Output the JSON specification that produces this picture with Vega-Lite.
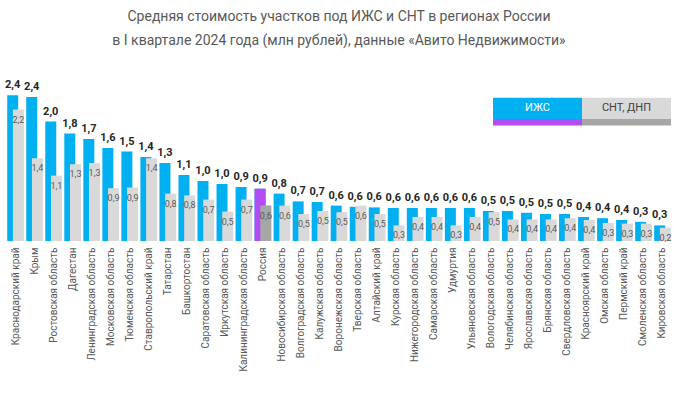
{
  "$schema": "https://vega.github.io/schema/vega-lite/v6.json",
  "width": 666,
  "height": 165,
  "padding": {"left": 5, "top": 9, "right": 0, "bottom": 0},
  "config": {
    "font": "Roboto",
    "view": {"stroke": null},
    "legend": {"padding": 0}
  },
  "title": {
    "text": ["Средняя стоимость участков под ИЖС и СНТ в регионах России", "в I квартале 2024 года (млн рублей), данные «Авито Недвижимости»"],
    "fontSize": 14,
    "fontWeight": "normal",
    "color": "#595959",
    "lineHeight": 24,
    "anchor": "middle",
    "offset": 16
  },
  "data": {
    "values": [
      {"r": "Краснодарский край", "a": 2.43, "b": 2.19, "la": "2,4", "lb": "2,2"},
      {"r": "Крым", "a": 2.40, "b": 1.38, "la": "2,4", "lb": "1,4"},
      {"r": "Ростовская область", "a": 1.99, "b": 1.09, "la": "2,0", "lb": "1,1"},
      {"r": "Дагестан", "a": 1.79, "b": 1.28, "la": "1,8", "lb": "1,3"},
      {"r": "Ленинградская область", "a": 1.70, "b": 1.30, "la": "1,7", "lb": "1,3"},
      {"r": "Московская область", "a": 1.55, "b": 0.88, "la": "1,6", "lb": "0,9"},
      {"r": "Тюменская область", "a": 1.49, "b": 0.89, "la": "1,5", "lb": "0,9"},
      {"r": "Ставропольский край", "a": 1.40, "b": 1.38, "la": "1,4", "lb": "1,4"},
      {"r": "Татарстан", "a": 1.30, "b": 0.79, "la": "1,3", "lb": "0,8"},
      {"r": "Башкортостан", "a": 1.10, "b": 0.76, "la": "1,1", "lb": "0,8"},
      {"r": "Саратовская область", "a": 1.00, "b": 0.69, "la": "1,0", "lb": "0,7"},
      {"r": "Иркутская область", "a": 0.95, "b": 0.49, "la": "1,0", "lb": "0,5"},
      {"r": "Калининградская область", "a": 0.90, "b": 0.69, "la": "0,9", "lb": "0,7"},
      {"r": "Россия", "a": 0.87, "b": 0.59, "la": "0,9", "lb": "0,6"},
      {"r": "Новосибирская область", "a": 0.79, "b": 0.59, "la": "0,8", "lb": "0,6"},
      {"r": "Волгоградская область", "a": 0.66, "b": 0.45, "la": "0,7", "lb": "0,5"},
      {"r": "Калужская область", "a": 0.65, "b": 0.50, "la": "0,7", "lb": "0,5"},
      {"r": "Воронежская область", "a": 0.59, "b": 0.48, "la": "0,6", "lb": "0,5"},
      {"r": "Тверская область", "a": 0.57, "b": 0.59, "la": "0,6", "lb": "0,6"},
      {"r": "Алтайский край", "a": 0.56, "b": 0.45, "la": "0,6", "lb": "0,5"},
      {"r": "Курская область", "a": 0.55, "b": 0.26, "la": "0,6", "lb": "0,3"},
      {"r": "Нижегородская область", "a": 0.55, "b": 0.40, "la": "0,6", "lb": "0,4"},
      {"r": "Самарская область", "a": 0.55, "b": 0.40, "la": "0,6", "lb": "0,4"},
      {"r": "Удмуртия", "a": 0.55, "b": 0.26, "la": "0,6", "lb": "0,3"},
      {"r": "Ульяновская область", "a": 0.55, "b": 0.40, "la": "0,6", "lb": "0,4"},
      {"r": "Вологодская область", "a": 0.50, "b": 0.48, "la": "0,5", "lb": "0,5"},
      {"r": "Челябинская область", "a": 0.50, "b": 0.36, "la": "0,5", "lb": "0,4"},
      {"r": "Ярославская область", "a": 0.47, "b": 0.36, "la": "0,5", "lb": "0,4"},
      {"r": "Брянская область", "a": 0.45, "b": 0.36, "la": "0,5", "lb": "0,4"},
      {"r": "Свердловская область", "a": 0.45, "b": 0.38, "la": "0,5", "lb": "0,4"},
      {"r": "Красноярский край", "a": 0.40, "b": 0.35, "la": "0,4", "lb": "0,4"},
      {"r": "Омская область", "a": 0.38, "b": 0.30, "la": "0,4", "lb": "0,3"},
      {"r": "Пермский край", "a": 0.35, "b": 0.29, "la": "0,4", "lb": "0,3"},
      {"r": "Смоленская область", "a": 0.32, "b": 0.29, "la": "0,3", "lb": "0,3"},
      {"r": "Кировская область", "a": 0.26, "b": 0.22, "la": "0,3", "lb": "0,2"}
    ]
  },
  "encoding": {
    "x": {
      "field": "r",
      "type": "nominal",
      "sort": null,
      "scale": {"paddingInner": 0, "paddingOuter": 0},
      "axis": {
        "title": null,
        "labelAngle": -90,
        "labelFontSize": 10,
        "labelColor": "#595959",
        "ticks": false,
        "domain": false,
        "labelPadding": 6,
        "labelLimit": 0
      }
    }
  },
  "layer": [
    {
      "layer": [
        {
          "mark": {"type": "bar", "width": 11, "xOffset": -2.8},
          "encoding": {
            "y": {"field": "a", "type": "quantitative", "scale": {"domain": [0, 2.75], "nice": false}, "axis": null},
            "color": {
              "datum": "ИЖС",
              "scale": {"domain": ["ИЖС", "СНТ, ДНП"], "range": ["#00B0F0", "#D9D9D9"]},
              "legend": {
                "orient": "none",
                "legendX": 487,
                "legendY": -12.5,
                "direction": "horizontal",
                "title": null,
                "symbolType": "M-1,-0.24H1V0.24H-1Z",
                "symbolSize": 7921,
                "symbolStrokeWidth": 0,
                "symbolOpacity": 1,
                "labelOffset": -44.5,
                "labelAlign": "center",
                "labelFontSize": 11,
                "labelColor": "#404040",
                "columnPadding": 0,
                "encode": {"labels": {"update": {"fill": {"signal": "datum.label === 'ИЖС' ? '#ffffff' : '#404040'"}}}}
              }
            }
          }
        },
        {
          "mark": {"type": "bar", "width": 11, "xOffset": 2.9},
          "encoding": {
            "y": {"field": "b", "type": "quantitative"},
            "color": {"datum": "СНТ, ДНП"}
          }
        },
        {
          "mark": {"type": "text", "xOffset": -2.8, "dy": -10, "baseline": "middle", "fontWeight": "bold", "fontSize": 11, "color": "#262626"},
          "encoding": {
            "y": {"field": "a", "type": "quantitative"},
            "text": {"field": "la"}
          }
        },
        {
          "mark": {"type": "text", "xOffset": 2.9, "dy": 10, "baseline": "middle", "fontSize": 9, "color": "#595959"},
          "encoding": {
            "y": {"field": "b", "type": "quantitative"},
            "text": {"field": "lb"}
          }
        }
      ]
    },
    {
      "transform": [{"filter": "datum.r === 'Россия'"}],
      "layer": [
        {
          "mark": {"type": "bar", "width": 11, "xOffset": -2.8},
          "encoding": {
            "y": {"field": "a", "type": "quantitative"},
            "color": {
              "datum": "ИЖС",
              "scale": {"domain": ["ИЖС", "СНТ, ДНП"], "range": ["#B44CF5", "#A6A6A6"]},
              "legend": {
                "orient": "none",
                "legendX": 487,
                "legendY": 1.5,
                "direction": "horizontal",
                "title": null,
                "symbolType": "M-1,-0.075H1V0.075H-1Z",
                "symbolSize": 7921,
                "symbolStrokeWidth": 0,
                "symbolOpacity": 1,
                "labelExpr": "''",
                "labelOffset": 0,
                "columnPadding": 0
              }
            }
          }
        },
        {
          "mark": {"type": "bar", "width": 11, "xOffset": 2.9},
          "encoding": {
            "y": {"field": "b", "type": "quantitative"},
            "color": {"datum": "СНТ, ДНП"}
          }
        },
        {
          "mark": {"type": "text", "xOffset": 2.9, "dy": 10, "baseline": "middle", "fontSize": 9, "color": "#595959"},
          "encoding": {
            "y": {"field": "b", "type": "quantitative"},
            "text": {"field": "lb"}
          }
        }
      ]
    }
  ],
  "resolve": {"scale": {"color": "independent"}}
}
